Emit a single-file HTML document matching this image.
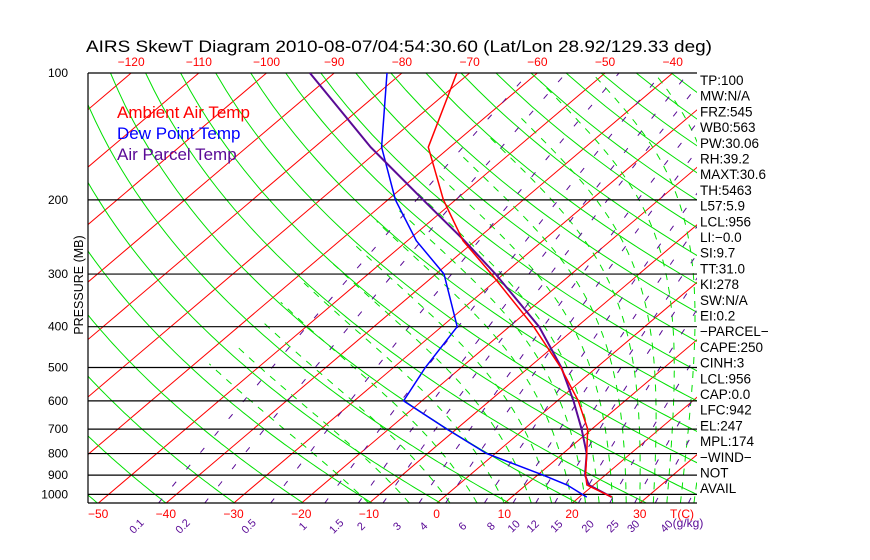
<!DOCTYPE html>
<html><head><meta charset="utf-8"><style>
html,body{margin:0;padding:0;background:#fff;}
svg{display:block;font-family:"Liberation Sans",sans-serif;}
</style></head><body>
<svg id="chart" width="870" height="560" viewBox="0 0 870 560" xmlns="http://www.w3.org/2000/svg">
<defs><clipPath id="plotclip"><rect x="88" y="73" width="609" height="430"/></clipPath></defs>
<text x="86" y="52" font-size="16.5" textLength="626" lengthAdjust="spacingAndGlyphs">AIRS SkewT Diagram 2010-08-07/04:54:30.60 (Lat/Lon 28.92/129.33 deg)</text>
<text transform="translate(83,285) rotate(-90)" text-anchor="middle" font-size="12.5">PRESSURE (MB)</text>
<g id="grid" clip-path="url(#plotclip)"></g>
<g id="frame"></g>
<g id="series" clip-path="url(#plotclip)"></g>
<g id="labels"></g>
<text x="117" y="118" font-size="17" fill="#ff0000">Ambient Air Temp</text>
<text x="117" y="139" font-size="17" fill="#0000ff">Dew Point Temp</text>
<text x="117" y="160" font-size="17" fill="#5a0a96">Air Parcel Temp</text>
</svg>
<script>
const pressureLevels=[100,200,300,400,500,600,700,800,900,1000];
const tempTicksBottom=[-50,-40,-30,-20,-10,0,10,20,30];
const tempTicksTop=[-120,-110,-100,-90,-80,-70,-60,-50,-40];
const mixRatios=[0.1,0.2,0.5,1,1.5,2,3,4,6,8,10,12,15,20,25,30,40];
const dryThetas=[200,210,220,230,240,250,260,270,280,290,300,310,320,330,340,350,360,370,380,390,400,410,420,430,440,450,460,470,480];
const moistStarts=[-10,-4,2,6,10,14,17,20,22,24,26,28,30,32,34,36,38];
const tempP=[100,150,200,250,300,400,500,600,700,800,900,950,1015];
const tempT=[-71.9,-63.2,-51.8,-41.8,-31.8,-16.4,-5.3,3.1,9.4,13.5,17.1,19.0,24.8];
const dewP=[100,150,200,250,300,400,500,600,700,800,900,950,1015];
const dewT=[-82.2,-70.1,-58.9,-48.7,-38.8,-27.7,-25.3,-22.7,-11.4,-1.3,10.8,16.1,21.1];
const parcelP=[100,150,200,250,300,400,500,600,700,800,900,950,1015];
const parcelT=[-93.6,-71.7,-54.8,-41.6,-31.2,-15.6,-5.2,2.4,8.5,13.5,17.0,19.3,24.8];
const statLabels=["TP:100","MW:N/A","FRZ:545","WB0:563","PW:30.06","RH:39.2","MAXT:30.6","TH:5463","L57:5.9","LCL:956","LI:\u22120.0","SI:9.7","TT:31.0","KI:278","SW:N/A"," EI:0.2","\u2212PARCEL\u2212","CAPE:250","CINH:3","LCL:956","CAP:0.0","LFC:942","EL:247","MPL:174","\u2212WIND\u2212"," NOT","AVAIL"];

const NS="http://www.w3.org/2000/svg";
function yP(p){return 73+183*Math.log(p/100);}
function xT(T,p){return 437+6.77*T+1.178*(503-yP(p));}
function mk(tag,attrs,parent){const e=document.createElementNS(NS,tag);for(const k in attrs)e.setAttribute(k,attrs[k]);parent.appendChild(e);return e;}
const grid=document.getElementById('grid'),frame=document.getElementById('frame'),series=document.getElementById('series'),labels=document.getElementById('labels');
function pathFrom(pts){return pts.map((q,i)=>(i?'L':'M')+q[0].toFixed(1)+' '+q[1].toFixed(1)).join(' ');}

for(let T=-150;T<=50;T+=10){
  const l=mk('line',{x1:xT(T,1050),y1:yP(1050),x2:xT(T,100),y2:yP(100),stroke:'#ff0000','stroke-width':1},grid);
  
  
}
dryThetas.forEach(th=>{
  const pts=[];for(let p=1050;p>=100;p-=10){pts.push([xT(th*Math.pow(p/1000,0.286)-273.15,p),yP(p)]);}
  const e=mk('path',{d:pathFrom(pts),fill:'none',stroke:'#00e000','stroke-width':1},grid);
  
  
});
function es(T){return 6.112*Math.exp(17.67*T/(T+243.5));}
moistStarts.forEach(t0=>{
  let T=t0+273.15,pts=[];
  for(let p=1050;p>=100;p-=5){
    pts.push([xT(T-273.15,p),yP(p)]);
    const e=es(T-273.15),rs=0.622*e/(p-e),Rd=287,cp=1005,Lv=2.5e6;
    const dTdp=(Rd*T+Lv*rs)/(p*(cp+Lv*Lv*rs*0.622/(Rd*T*T)));
    T-=dTdp*5;
    if(T<215)break;
  }
  const e=mk('path',{d:pathFrom(pts),fill:'none',stroke:'#00e000','stroke-width':1,'stroke-dasharray':'7 7'},grid);
  
  
});
function tdFromW(w,p){const e=w*p/(622+w);const L=Math.log(e/6.112);return 243.5*L/(17.67-L);}
mixRatios.forEach(w=>{
  const pts=[];for(let p=1050;p>=100;p-=10)pts.push([xT(tdFromW(w,p),p),yP(p)]);
  const e=mk('path',{d:pathFrom(pts),fill:'none',stroke:'#5a0a96','stroke-width':1,'stroke-dasharray':'6 16'},grid);
  
  
  const lx=xT(tdFromW(w,1050),1050)-22;
  const t=mk('text',{x:lx,y:530,'font-size':11,fill:'#5a0a96','text-anchor':'middle',transform:`rotate(-45 ${lx} 526)`},labels);
  t.textContent=String(w);
  
  
});
pressureLevels.forEach(p=>{
  const y=yP(p);
  const l=mk('line',{x1:88,y1:y,x2:697,y2:y,stroke:'#000','stroke-width':1.2},frame);
  
  
  const t=mk('text',{x:68,y:y+4,'font-size':12,'text-anchor':'end'},labels);
  t.textContent=String(p);
  
  
});
const bl=mk('line',{x1:88,y1:503,x2:697,y2:503,stroke:'#000','stroke-width':1.2},frame);


const ll=mk('line',{x1:88,y1:73,x2:88,y2:503,stroke:'#000','stroke-width':1.2},frame);


tempTicksBottom.forEach(T=>{
  const t=mk('text',{x:xT(T,1050),y:518,'font-size':12,fill:'#ff0000','text-anchor':'middle'},labels);
  t.textContent=T<0?'\u2212'+(-T):String(T);
  
  
});
tempTicksTop.forEach(T=>{
  const t=mk('text',{x:xT(T,100),y:66,'font-size':12,fill:'#ff0000','text-anchor':'middle'},labels);
  t.textContent='\u2212'+(-T);
  
  
});
const tc=mk('text',{x:682,y:518,'font-size':12,fill:'#ff0000','text-anchor':'middle'},labels);
tc.textContent='T(C)';


const gk=mk('text',{x:688,y:527,'font-size':12,fill:'#5a0a96','text-anchor':'middle'},labels);
gk.textContent='(g/kg)';


statLabels.forEach((s,i)=>{
  const t=mk('text',{x:700,y:85+i*15.7,'font-size':13.5},labels);
  t.textContent=s;
  t.setAttribute('xml:space','preserve');
  
  
});
function drawSeries(P,T,color,name,w){
  const pts=P.map((p,i)=>[xT(T[i],p),yP(p)]);
  const e=mk('path',{d:pathFrom(pts),fill:'none',stroke:color,'stroke-width':w},series);
  
  
}
drawSeries(dewP,dewT,'#0000ff','dew-point-line',1.5);
drawSeries(parcelP,parcelT,'#5a0a96','parcel-temp-line',2);
drawSeries(tempP,tempT,'#ff0000','ambient-temp-line',1.5);
</script>
</body></html>
